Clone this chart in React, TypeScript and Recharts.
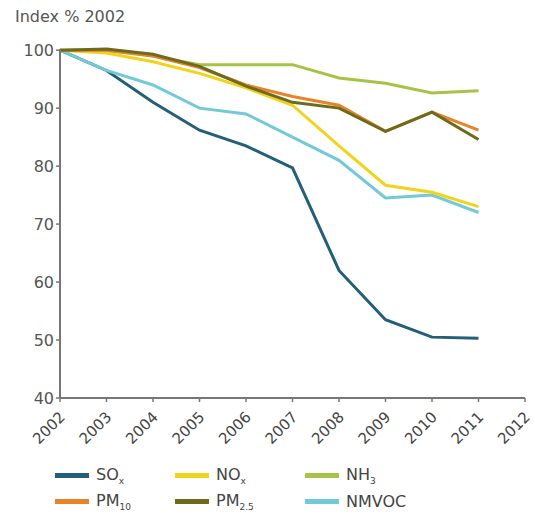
import React from 'react';
import { LineChart, Line, XAxis, YAxis } from 'recharts';

// Index, 2002 = 100
const years = [2002, 2003, 2004, 2005, 2006, 2007, 2008, 2009, 2010, 2011];
const so2 = [100, 96.5, 91, 86.2, 83.5, 79.7, 62, 53.5, 50.5, 50.3];
const nox = [100, 99.5, 98, 96, 93.5, 90.5, 83.5, 76.7, 75.5, 73];
const nh3 = [100, 100, 99, 97.5, 97.5, 97.5, 95.2, 94.3, 92.6, 93];
const pm10 = [100, 100, 99, 97, 94, 92, 90.5, 86, 89.3, 86.2];
const pm25 = [100, 100.2, 99.3, 97.2, 93.8, 91, 90, 86, 89.3, 84.6];
const nmvoc = [100, 96.5, 94, 90, 89, 85, 81, 74.5, 75, 72];

const xTicks = [2002, 2003, 2004, 2005, 2006, 2007, 2008, 2009, 2010, 2011, 2012];
const yTicks = [40, 50, 60, 70, 80, 90, 100];

const data = years.map((year, i) => ({
  year,
  so2: so2[i],
  nox: nox[i],
  nh3: nh3[i],
  pm10: pm10[i],
  pm25: pm25[i],
  nmvoc: nmvoc[i],
}));

const series = [
  { key: 'so2', color: '#235f78', label: 'SO', sub: 'x' },
  { key: 'nmvoc', color: '#72c9d8', label: 'NMVOC', sub: '' },
  { key: 'nox', color: '#f2d31b', label: 'NO', sub: 'x' },
  { key: 'nh3', color: '#a5c446', label: 'NH', sub: '3' },
  { key: 'pm10', color: '#e8832a', label: 'PM', sub: '10' },
  { key: 'pm25', color: '#6e6a1c', label: 'PM', sub: '2.5' },
];

const legendOrder = ['so2', 'nox', 'nh3', 'pm10', 'pm25', 'nmvoc'];

const font = '"DejaVu Sans", Verdana, sans-serif';

const XTick = (props: any) => {
  const { x, y, payload } = props;
  return (
    <text
      x={x + 6}
      y={y + 14}
      transform={`rotate(-45, ${x + 6}, ${y + 14})`}
      textAnchor="end"
      fontSize={15}
      fill="#444"
      fontFamily={font}
    >
      {payload.value}
    </text>
  );
};

export default function App() {
  return (
    <div style={{ position: 'absolute', left: 0, top: 0, width: 535, height: 514, background: '#fff', fontFamily: font }}>
      <div style={{ position: 'absolute', left: 15, top: 7, fontSize: 16, color: '#555' }}>Index % 2002</div>
      <LineChart width={535} height={450} data={data} margin={{ top: 49, right: 10, left: 0, bottom: 0 }}>
        <XAxis
          dataKey="year"
          type="number"
          domain={[2002, 2012]}
          ticks={xTicks}
          interval={0}
          height={52}
          tick={<XTick />}
          tickSize={4}
          axisLine={{ stroke: '#777', strokeWidth: 2 }}
          tickLine={{ stroke: '#777', strokeWidth: 1.5 }}
        />
        <YAxis
          domain={[40, 100]}
          ticks={yTicks}
          interval={0}
          width={60}
          tickSize={4}
          tick={{ fontSize: 16, fill: '#555', fontFamily: font }}
          axisLine={{ stroke: '#777', strokeWidth: 2 }}
          tickLine={{ stroke: '#777', strokeWidth: 1.5 }}
        />
        {series.map((s) => (
          <Line
            key={s.key}
            dataKey={s.key}
            stroke={s.color}
            strokeWidth={3}
            dot={false}
            type="linear"
            isAnimationActive={false}
          />
        ))}
      </LineChart>
      <div
        style={{
          position: 'absolute',
          left: 55,
          top: 465,
          display: 'grid',
          gridTemplateColumns: '120px 130px 130px',
          rowGap: 5,
          fontSize: 16,
          color: '#444',
        }}
      >
        {legendOrder.map((k) => {
          const s = series.find((d) => d.key === k)!;
          return (
            <div key={k} style={{ display: 'flex', alignItems: 'center', height: 21 }}>
              <span style={{ display: 'inline-block', width: 34, height: 5, background: s.color, marginRight: 7 }} />
              <span>
                {s.label}
                {s.sub && <sub style={{ fontSize: 9 }}>{s.sub}</sub>}
              </span>
            </div>
          );
        })}
      </div>
    </div>
  );
}
